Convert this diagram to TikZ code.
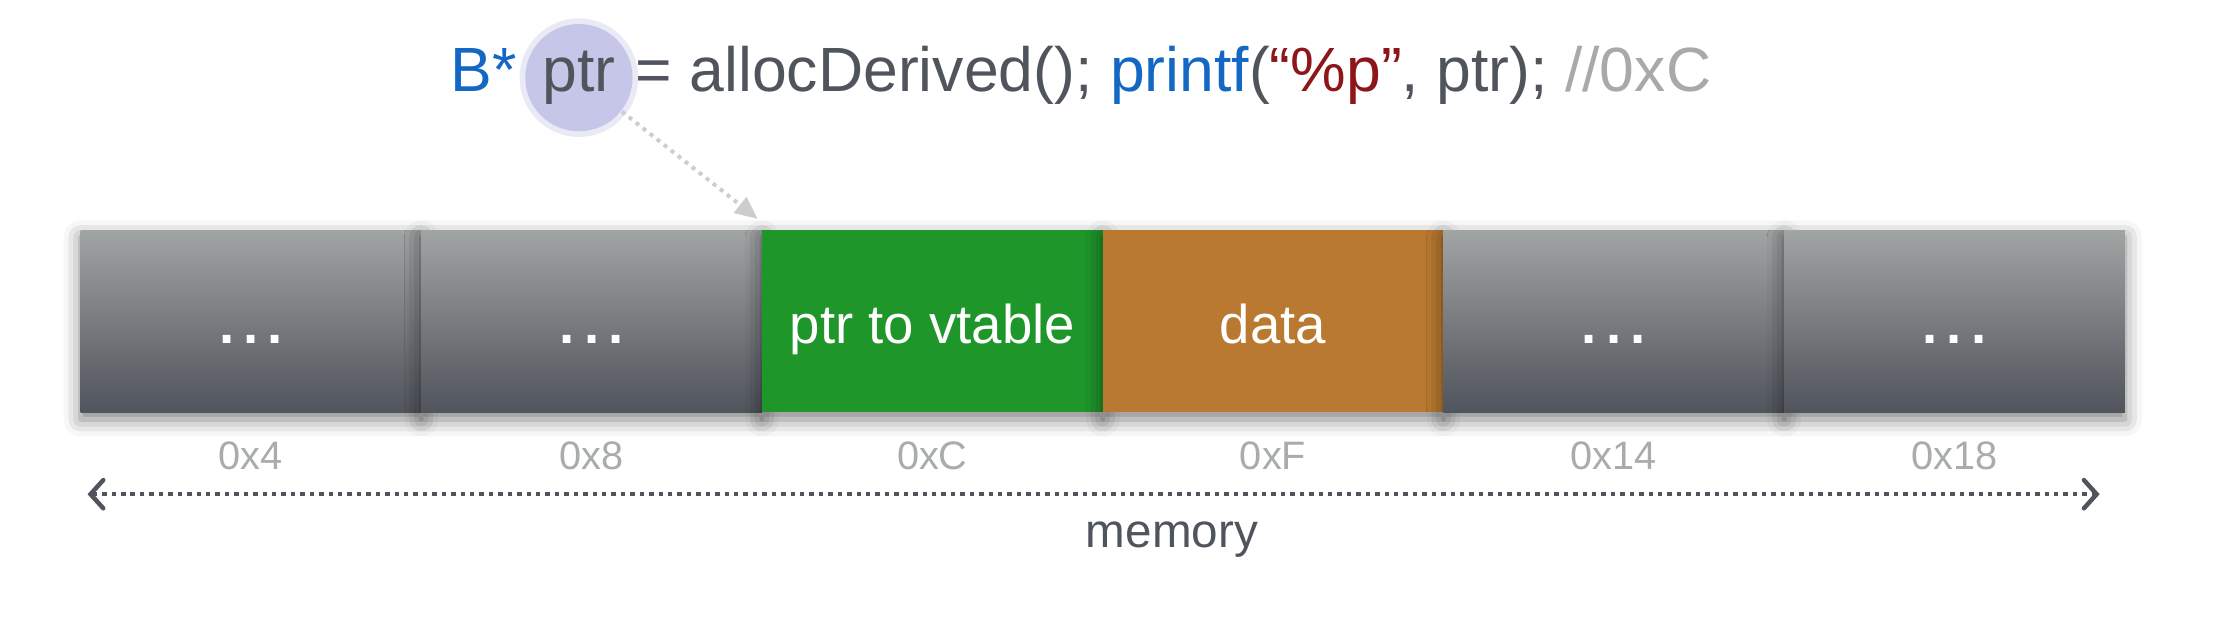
\documentclass[tikz,border=0pt]{standalone}
\usepackage{fontspec}
\setmainfont{Liberation Sans}
\usepackage{xcolor}
\usetikzlibrary{positioning, arrows.meta, shadows.blur}

\definecolor{codeblue}{RGB}{20,104,196}
\definecolor{codered}{RGB}{140,22,24}
\definecolor{codegray}{RGB}{80,84,92}
\definecolor{commentgray}{RGB}{168,170,170}
\definecolor{addrgray}{RGB}{168,172,170}
\definecolor{cellTop}{RGB}{160,164,163}
\definecolor{cellBottom}{RGB}{80,84,92}
\definecolor{vptrgreen}{RGB}{30,150,42}
\definecolor{dataorange}{RGB}{185,121,48}
\definecolor{glowlilac}{RGB}{186,186,228}
\definecolor{pointergray}{RGB}{205,205,205}

\tikzset{
    cell/.style={rectangle, minimum width=2.413cm, minimum height=1.29cm, inner sep=0pt, outer sep=0pt,
        text height=0.4cm, text depth=0.09cm, text=white, font=\fontsize{11}{13}\selectfont,
        blur shadow={shadow xshift=0pt, shadow yshift=-0.05cm, shadow blur radius=0.12cm, shadow opacity=50}},
    graycell/.style={cell, top color=cellTop, bottom color=cellBottom, font=\fontsize{11}{13}\selectfont\bfseries},
    addr/.style={text=addrgray, font=\fontsize{8}{10}\selectfont, inner sep=0pt},
    code/.style={inner sep=0pt, text=codegray, font=\fontsize{12.6}{15}\selectfont},
    memtip/.tip={Straight Barb[length=0.09cm, width=0.2cm, line cap=round]},
}

\begin{document}
\begin{tikzpicture}
    \useasboundingbox (0,0) rectangle (15.68,4.42);

    % Source line
    \node [circle, fill=glowlilac, opacity=0.3, minimum size=0.84cm, inner sep=0pt] (halo) at (4.10,3.87) {};
    \node [circle, fill=glowlilac, opacity=0.75, minimum size=0.76cm, inner sep=0pt] (glow) at (4.10,3.87) {};
    \node [code] (ptrvar) at (glow.center) {ptr};
    \node [code, anchor=base east] (typename) at ([xshift=-0.17cm]ptrvar.base west) {\textcolor{codeblue}{B*}};
    \node [code, anchor=base west] (stmt) at ([xshift=0.13cm]ptrvar.base east)
        {= allocDerived(); \textcolor{codeblue}{printf}(\textcolor{codered}{“\%p”}, ptr); \textcolor{commentgray}{//0xC}};

    % Memory cells
    \node [graycell] (slot4) at (1.777,2.145) {.\,.\,.};
    \node [graycell, right=0pt of slot4] (slot8) {.\,.\,.};
    \node [cell, fill=vptrgreen, right=0pt of slot8] (vptr) {ptr to vtable};
    \node [cell, fill=dataorange, right=0pt of vptr] (data) {data};
    \node [graycell, right=0pt of data] (slot14) {.\,.\,.};
    \node [graycell, right=0pt of slot14] (slot18) {.\,.\,.};

    % Addresses
    \node [addr, below=0.2cm of slot4] (addr4) {0x4};
    \node [addr, below=0.2cm of slot8] (addr8) {0x8};
    \node [addr, below=0.2cm of vptr] (addrC) {0xC};
    \node [addr, below=0.2cm of data] (addrF) {0xF};
    \node [addr, below=0.2cm of slot14] (addr14) {0x14};
    \node [addr, below=0.2cm of slot18] (addr18) {0x18};

    % Address space
    \coordinate (memstart) at (0.62,0.92);
    \coordinate (memend) at (14.87,0.92);
    \draw [codegray, line width=0.9pt, densely dotted, memtip-memtip] (memstart) -- (memend);
    \node [text=codegray, font=\fontsize{9.6}{12}\selectfont] (memlabel) at (8.30,0.60) {memory};

    % Pointer
    \draw [pointergray, line width=0.8pt, densely dotted, -{Triangle[length=0.16cm, width=0.14cm]}] (glow) -- ([xshift=-0.03cm, yshift=0.08cm]vptr.north west);
\end{tikzpicture}
\end{document}
